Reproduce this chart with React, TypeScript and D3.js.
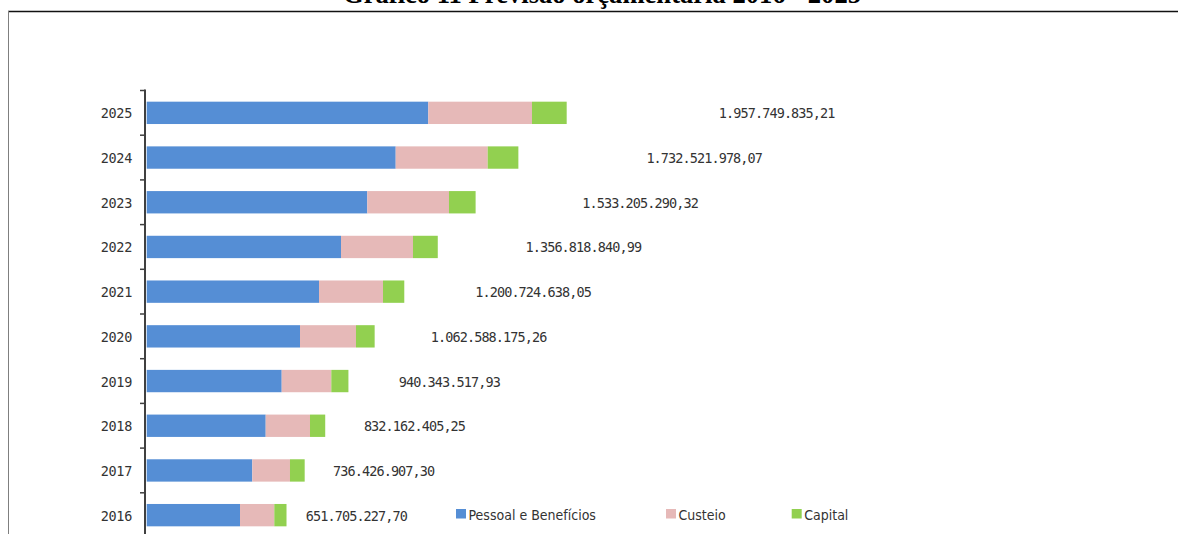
import React from 'react';
import * as d3 from 'd3';

// Budget forecast by expense group (R$), 2016–2025
const years = ['2016', '2017', '2018', '2019', '2020', '2021', '2022', '2023', '2024', '2025'];
const pessoal = [434.9e6, 492.2e6, 554.7e6, 629.3e6, 714.6e6, 803.2e6, 905.7e6, 1028.3e6, 1160.7e6, 1312.6e6];
const custeio = [159.9e6, 175.7e6, 206.5e6, 231.2e6, 261.0e6, 298.3e6, 335.6e6, 380.8e6, 428.8e6, 483.4e6];
const capital = [
  56905227.7, 68526907.3, 70962405.25, 79843517.93, 86988175.26,
  99224638.05, 115518840.99, 124105290.32, 143021978.07, 161749835.21,
];
const seriesNames = ['Pessoal e Benefícios', 'Custeio', 'Capital'];
const seriesColors = ['#558ED5', '#E6B9B8', '#92D050'];
const title = 'Gráfico 11 Previsão orçamentária 2016 - 2025';

const W = 1178;
const H = 534;

const ptBR = d3.formatLocale({ decimal: ',', thousands: '.', grouping: [3], currency: ['R$ ', ''] });
const fmt = ptBR.format(',.2f');

type Row = { year: string; pessoal: number; custeio: number; capital: number };
const rows: Row[] = years.map((year, i) => ({
  year,
  pessoal: pessoal[i],
  custeio: custeio[i],
  capital: capital[i],
}));
const keys = ['pessoal', 'custeio', 'capital'] as const;

export default function App() {
  const x = d3.scaleLinear().domain([0, 4e9]).range([146.7, 1004.8]);
  const y = d3
    .scaleBand<string>()
    .domain([...years].reverse())
    .range([90.5, 537.5])
    .paddingInner(0.5)
    .paddingOuter(0.25);
  const step = y.step();
  const stacked = d3.stack<Row>().keys(keys as unknown as string[])(rows);

  const axisX = 145;
  const textColor = '#333';
  const monoFont = '"DejaVu Sans Mono", monospace';
  const legendFont = '"DejaVu Sans Condensed", "DejaVu Sans", sans-serif';
  const legendX = [456, 666, 791.7];
  const legendY = 514;

  const tickYs = d3.range(years.length + 1).map((i) => 90.5 + i * step);

  return (
    <svg
      width={W}
      height={H}
      style={{ position: 'absolute', left: 0, top: 0, background: '#fff' }}
    >
      <rect x={0} y={0} width={W} height={H} fill="#fff" />
      {/* heading */}
      <text
        x={602}
        y={3}
        textAnchor="middle"
        fontFamily='"Liberation Serif", "Times New Roman", serif'
        fontWeight="bold"
        fontSize={26.6}
        fill="#000"
      >
        {title}
      </text>

      {/* chart frame */}
      <line x1={8} x2={W} y1={11.5} y2={11.5} stroke="#111" strokeWidth={1.5} />
      <line x1={8.5} x2={8.5} y1={11} y2={H} stroke="#7f7f7f" strokeWidth={1} />

      {/* stacked bars */}
      {stacked.map((layer, si) => (
        <g key={layer.key} fill={seriesColors[si]}>
          {layer.map((d) => (
            <rect
              key={d.data.year}
              x={x(d[0])}
              y={y(d.data.year)}
              width={x(d[1]) - x(d[0])}
              height={y.bandwidth()}
            />
          ))}
        </g>
      ))}

      {/* category axis */}
      <line x1={axisX} x2={axisX} y1={89.5} y2={H + 5} stroke="#404040" strokeWidth={2} />
      {tickYs.map((ty, i) => (
        <line key={i} x1={140} x2={axisX} y1={ty} y2={ty} stroke="#404040" strokeWidth={1.5} />
      ))}
      {years.map((yr) => (
        <text
          key={yr}
          x={132}
          y={(y(yr) as number) + y.bandwidth() / 2 + 0.5}
          textAnchor="end"
          dominantBaseline="central"
          fontFamily={monoFont}
          fontSize={13.5}
          letterSpacing={-0.3}
          fill={textColor}
        >
          {yr}
        </text>
      ))}

      {/* totals */}
      {rows.map((r) => {
        const total = r.pessoal + r.custeio + r.capital;
        return (
          <text
            key={r.year}
            x={x(total * 1.5)}
            y={(y(r.year) as number) + y.bandwidth() / 2 + 0.5}
            textAnchor="middle"
            dominantBaseline="central"
            fontFamily={monoFont}
            fontSize={13.5}
            letterSpacing={-0.9}
            fill={textColor}
          >
            {fmt(total)}
          </text>
        );
      })}

      {/* legend */}
      {seriesNames.map((name, i) => (
        <g key={name}>
          <rect x={legendX[i]} y={legendY - 5} width={10} height={9.5} fill={seriesColors[i]} />
          <text
            x={legendX[i] + 12.5}
            y={legendY + 0.5}
            dominantBaseline="central"
            fontFamily={legendFont}
            fontSize={14}
            fill={textColor}
          >
            {name}
          </text>
        </g>
      ))}
    </svg>
  );
}
